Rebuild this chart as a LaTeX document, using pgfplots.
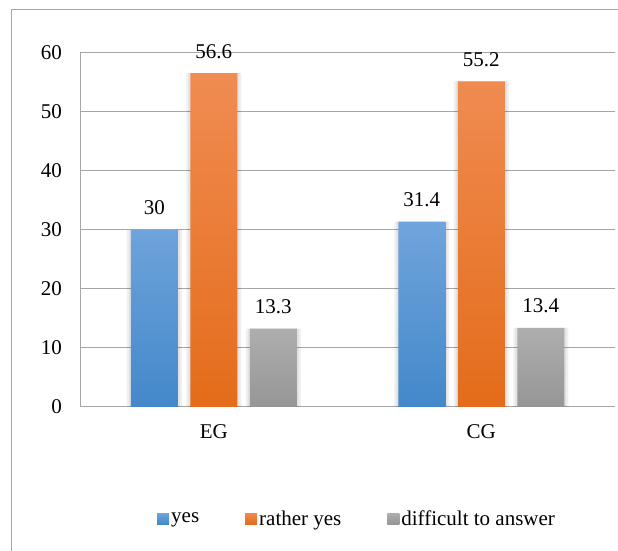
\documentclass[border=0pt]{standalone}
\usepackage{fontspec}
\setmainfont{Liberation Serif}
\newfontfamily\tnr{Liberation Serif}
\usepackage{pgfplots}
\pgfplotsset{compat=1.18}
\definecolor{bluetop}{HTML}{70A4DC}
\definecolor{bluebot}{HTML}{4388CA}
\definecolor{orgtop}{HTML}{F08C52}
\definecolor{orgbot}{HTML}{E46C1A}
\definecolor{graytop}{HTML}{AEAEAE}
\definecolor{graybot}{HTML}{969696}
\definecolor{gridgray}{HTML}{A6A6A6}
\newcommand{\cf}{\tnr\fontsize{21}{25}\selectfont}
\begin{document}
\begin{tikzpicture}
\path[use as bounding box] (0,0) rectangle (618pt,551pt);
\draw[gridgray, line width=1pt] (11pt,0pt) -- (11pt,541pt) -- (618pt,541pt);
\begin{axis}[
 at={(80pt,144pt)}, anchor=south west,
 scale only axis, width=535pt, height=354pt,
 xmin=-0.5, xmax=1.5, ymin=0, ymax=60,
 enlargelimits=false, clip=false,
 axis x line*=bottom, axis y line*=left,
 axis line style={draw=gridgray, line width=1pt, -},
 ymajorgrids, grid style={draw=gridgray, line width=1pt},
 major tick length=0pt,
 xtick={0,1}, xticklabels={EG,CG},
 ytick={0,10,...,60},
 xticklabel style={font=\cf, anchor=base, yshift=-32pt},
 yticklabel style={font=\cf, anchor=east, inner sep=0pt, xshift=-18pt},
 /pgf/number format/assume math mode=true,
 legend columns=3,
 legend cell align=left,
 legend style={draw=none, fill=none, font=\cf, inner sep=0pt,
   at={(axis description cs:0.1439,-0.315)}, anchor=west,
   nodes={inner xsep=2pt, inner ysep=0pt},
   /tikz/every even column/.append style={column sep=44pt}},
]
% shadows
\addplot[ybar, bar width=55pt, bar shift=-59.5pt, draw=none, fill=black, fill opacity=0.06, forget plot] coordinates {(0,30) (1,31.4)};
\addplot[ybar, bar width=51pt, bar shift=-59.5pt, draw=none, fill=black, fill opacity=0.06, forget plot] coordinates {(0,30) (1,31.4)};
\addplot[ybar, bar width=55pt, bar shift=0pt, draw=none, fill=black, fill opacity=0.06, forget plot] coordinates {(0,56.6) (1,55.2)};
\addplot[ybar, bar width=51pt, bar shift=0pt, draw=none, fill=black, fill opacity=0.06, forget plot] coordinates {(0,56.6) (1,55.2)};
\addplot[ybar, bar width=55pt, bar shift=59.5pt, draw=none, fill=black, fill opacity=0.06, forget plot] coordinates {(0,13.3) (1,13.4)};
\addplot[ybar, bar width=51pt, bar shift=59.5pt, draw=none, fill=black, fill opacity=0.06, forget plot] coordinates {(0,13.3) (1,13.4)};
% bars
\addplot[ybar, bar width=47pt, bar shift=-59.5pt, draw=none, top color=bluetop, bottom color=bluebot,
  nodes near coords, every node near coord/.append style={font=\cf, anchor=base, xshift=-59.5pt, yshift=15pt, text=black},
  legend image code/.code={\shade[top color=bluetop, bottom color=bluebot] (0pt,-5.5pt) rectangle (12pt,5.5pt);}]
  coordinates {(0,30) (1,31.4)};
\addlegendentry{yes}
\addplot[ybar, bar width=47pt, bar shift=0pt, draw=none, top color=orgtop, bottom color=orgbot,
  nodes near coords, every node near coord/.append style={font=\cf, anchor=base, yshift=15pt, text=black},
  legend image code/.code={\shade[top color=orgtop, bottom color=orgbot] (0pt,-5.5pt) rectangle (12pt,5.5pt);}]
  coordinates {(0,56.6) (1,55.2)};
\addlegendentry{rather yes}
\addplot[ybar, bar width=47pt, bar shift=59.5pt, draw=none, top color=graytop, bottom color=graybot,
  nodes near coords, every node near coord/.append style={font=\cf, anchor=base, xshift=59.5pt, yshift=15pt, text=black},
  legend image code/.code={\shade[top color=graytop, bottom color=graybot] (0pt,-5.5pt) rectangle (12pt,5.5pt);}]
  coordinates {(0,13.3) (1,13.4)};
\addlegendentry{difficult to answer}
\end{axis}
\end{tikzpicture}
\end{document}
